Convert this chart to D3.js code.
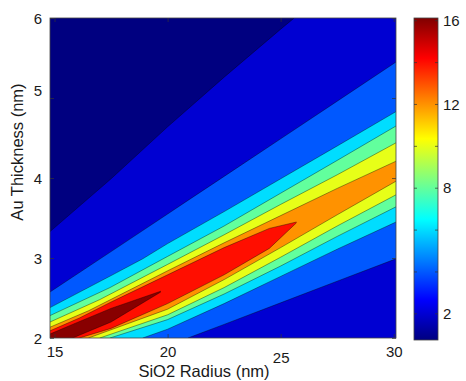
<!DOCTYPE html>
<html><head><meta charset="utf-8">
<script src="https://cdn.jsdelivr.net/npm/d3@7"></script>
<style>
body{margin:0;background:#fff}
svg{display:block}
text{font-family:"Liberation Sans",Arial,Helvetica,sans-serif;fill:#1a1a1a}
</style>
</head><body>
<svg id="c" width="466" height="381"></svg>
<script>
// ---- data ----
// contour levels of the filled contour plot
const levels = [2, 4, 6, 8, 10, 12, 14, 16];
// for each level: rows of [SiO2 radius, upper crossing thickness, lower crossing thickness]
// null = the level region extends past the plot edge (top for upper, bottom for lower)
const band2  = [[14.8,3.33,null],[17.5,3.99,null],[20,4.64,null],[22.5,5.26,null],[25,5.86,null],[25.6,6.0,null],[30.1,null,null]];
const band4  = [[14.8,2.575,null],[17.5,3.08,null],[20,3.55,null],[20.9,3.72,2.0],[22.5,4.02,2.17],[25,4.49,2.44],[27.5,4.96,2.71],[30.1,5.45,2.99]];
const band6  = [[14.8,2.38,null],[17.5,2.78,null],[18.9,2.99,2.0],[20,3.18,2.11],[22.5,3.58,2.43],[25,3.99,2.77],[27.5,4.40,3.11],[30.1,4.83,3.45]];
const band8  = [[14.8,2.28,null],[17.45,2.63,2.0],[20,3.02,2.23],[22.5,3.40,2.55],[25,3.81,2.90],[27.5,4.22,3.27],[30.1,4.65,3.64]];
const band10 = [[14.8,2.20,null],[17.0,2.48,2.0],[20,2.92,2.29],[22.5,3.29,2.63],[25,3.67,3.01],[27.5,4.04,3.40],[30.1,4.44,3.79]];
const band12 = [[14.8,2.135,null],[16.5,2.34,2.0],[20,2.84,2.36],[22.5,3.19,2.73],[25,3.53,3.13],[27.5,3.87,3.54],[30.1,4.21,3.96]];
const band14 = [[14.8,2.09,null],[16.1,2.25,2.0],[17.5,2.45,2.12],[20,2.79,2.43],[22.5,3.13,2.79],[24.5,3.37,3.12],[25.7,3.45,3.44]];
const band16 = [[14.8,2.05,null],[15.8,2.17,2.0],[17.5,2.37,2.20],[19.7,2.585,2.575]];
const bands = [band2, band4, band6, band8, band10, band12, band14, band16];

const xDomain = [14.8, 30.1];
const yDomain = [2, 6];
const colorRange = [0.75, 16.13];
const xTicks = [15, 20, 25, 30];
const yTicks = [2, 3, 4, 5, 6];
const cbarTicks = [2, 4, 6, 8, 10, 12, 14, 16];
const cbarLabels = [2, 8, 12, 16];
const xTitle = "SiO2 Radius (nm)";
const yTitle = "Au Thickness (nm)";

// ---- drawing ----
function jet(t){
  const c = v => Math.max(0, Math.min(1, v));
  return d3.rgb(255*c(1.5-Math.abs(4*t-3)), 255*c(1.5-Math.abs(4*t-2)), 255*c(1.5-Math.abs(4*t-1))).toString();
}
const svg = d3.select("#c");
const L = 50, R = 396, T = 18, B = 338;
const x = d3.scaleLinear().domain(xDomain).range([L, R]);
const y = d3.scaleLinear().domain(yDomain).range([B, T]);
const color = d3.scaleSequential(jet).domain(colorRange);

svg.append("clipPath").attr("id","clip").append("rect")
  .attr("x",L).attr("y",T).attr("width",R-L).attr("height",B-T);
const g = svg.append("g").attr("clip-path","url(#clip)");
g.append("rect").attr("x",L).attr("y",T).attr("width",R-L).attr("height",B-T)
  .attr("fill", color(colorRange[0]));

const area = d3.area()
  .x(d => x(d[0]))
  .y0(d => y(d[2] == null ? yDomain[0] : d[2]))
  .y1(d => y(d[1] == null ? yDomain[1] : d[1]));
bands.forEach((b,i) => {
  g.append("path").attr("d", area(b)).attr("fill", color(levels[i]));
});
const upper = d3.line().defined(d => d[1] != null).x(d => x(d[0])).y(d => y(d[1]));
const lower = d3.line().defined(d => d[2] != null).x(d => x(d[0])).y(d => y(d[2]));
bands.forEach(b => {
  [upper(b), lower(b)].forEach(p => {
    if (p) g.append("path").attr("d", p).attr("fill","none")
      .attr("stroke","#000").attr("stroke-opacity",0.55).attr("stroke-width",0.7);
  });
});

// axes
const tickLen = 4;
const fmt = d3.format("d");
const ax = svg.append("g").attr("transform",`translate(0,${B})`)
  .call(d3.axisBottom(x).tickValues(xTicks).tickFormat(fmt).tickSize(-tickLen).tickPadding(8));
ax.select(".domain").remove();
ax.selectAll("text").style("font-size","15px").attr("dy", d => d === 25 ? "1.1em" : "0.71em");
const ay = svg.append("g").attr("transform",`translate(${L},0)`)
  .call(d3.axisLeft(y).tickValues(yTicks).tickFormat(fmt).tickSize(-tickLen).tickPadding(8));
ay.select(".domain").remove();
ay.selectAll("text").style("font-size","15px").attr("dy", d => d === 5 ? "-0.15em" : "0.35em");
const at = svg.append("g").attr("transform",`translate(0,${T})`)
  .call(d3.axisTop(x).tickValues(xTicks).tickSize(-tickLen).tickFormat(""));
at.select(".domain").remove();
const ar = svg.append("g").attr("transform",`translate(${R},0)`)
  .call(d3.axisRight(y).tickValues(yTicks).tickSize(-tickLen).tickFormat(""));
ar.select(".domain").remove();
svg.selectAll(".tick line").attr("stroke","#333").attr("stroke-width",0.7);
svg.append("rect").attr("x",L).attr("y",T).attr("width",R-L).attr("height",B-T)
  .attr("fill","none").attr("stroke","#444").attr("stroke-width",0.8);

svg.append("text").attr("x",204).attr("y",377).attr("text-anchor","middle")
  .style("font-size","16.5px").text(xTitle);
svg.append("text").attr("transform","translate(23,152) rotate(-90)").attr("text-anchor","middle")
  .style("font-size","16.5px").text(yTitle);

// colorbar
const CL = 414, CR = 438, CT = 18, CB = 340;
const cy = d3.scaleLinear().domain(colorRange).range([CB, CT]);
const grad = svg.append("defs").append("linearGradient").attr("id","jet")
  .attr("x1","0").attr("y1","1").attr("x2","0").attr("y2","0");
d3.range(0, 1.0001, 1/32).forEach(t => {
  grad.append("stop").attr("offset", t).attr("stop-color", jet(t));
});
svg.append("rect").attr("x",CL).attr("y",CT).attr("width",CR-CL).attr("height",CB-CT)
  .attr("fill","url(#jet)").attr("stroke","#444").attr("stroke-width",0.8);
cbarTicks.forEach(v => {
  svg.append("line").attr("x1",CL).attr("x2",CL+3).attr("y1",cy(v)).attr("y2",cy(v))
    .attr("stroke","#333").attr("stroke-width",0.7);
  svg.append("line").attr("x1",CR-3).attr("x2",CR).attr("y1",cy(v)).attr("y2",cy(v))
    .attr("stroke","#333").attr("stroke-width",0.7);
});
cbarLabels.forEach(v => {
  svg.append("text").attr("x",443).attr("y",cy(v)).attr("dy","0.35em")
    .style("font-size","15px").text(v);
});
</script>
</body></html>
